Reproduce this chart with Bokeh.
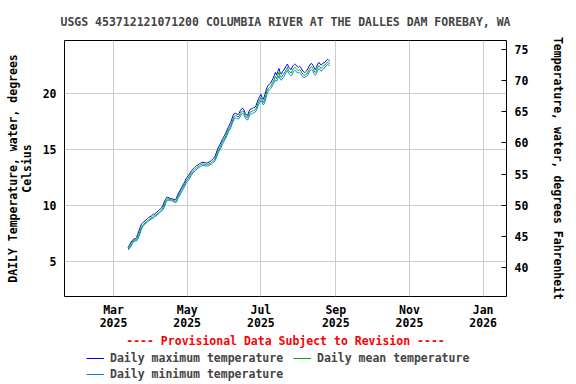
import pandas as pd
from bokeh.plotting import figure
from bokeh.models import (Range1d, LinearAxis, FixedTicker, Legend, LegendItem)
from bokeh.layouts import column
from bokeh.embed import file_html
from bokeh.resources import INLINE

title_text = "USGS 453712121071200 COLUMBIA RIVER AT THE DALLES DAM FOREBAY, WA"
provisional_text = "---- Provisional Data Subject to Revision ----"
left_label = "DAILY Temperature, water, degrees\nCelsius"
right_label = "Temperature, water, degrees Fahrenheit"
series_names = ["Daily maximum temperature", "Daily mean temperature", "Daily minimum temperature"]
series_colors = ["#0000ff", "#00a800", "#0088dd"]

start_date = "2025-03-13"
x_tick_dates = ["2025-03-01", "2025-05-01", "2025-07-01", "2025-09-01", "2025-11-01", "2026-01-01"]
x_tick_labels = ["Mar\n2025", "May\n2025", "Jul\n2025", "Sep\n2025", "Nov\n2025", "Jan\n2026"]
c_ticks = [5, 10, 15, 20]
f_ticks = [40, 45, 50, 55, 60, 65, 70, 75]

mean_mar = [6.1, 6.2, 6.4, 6.6, 6.8, 6.9, 6.9, 6.9, 7.1, 7.4, 7.7, 8.0, 8.2, 8.3, 8.4, 8.5, 8.6, 8.7, 8.75]
mean_apr = [8.85, 8.9, 9.0, 9.1, 9.1, 9.2, 9.3, 9.4, 9.5, 9.6, 9.8, 10.0, 10.3, 10.5, 10.55, 10.55, 10.5, 10.5, 10.45, 10.4,
            10.35, 10.4, 10.7, 10.9, 11.1, 11.3, 11.5, 11.7, 11.9, 12.15]
mean_may = [12.3, 12.4, 12.6, 12.8, 12.9, 13.05, 13.15, 13.25, 13.35, 13.45, 13.5, 13.6, 13.65, 13.7, 13.65, 13.65, 13.6,
            13.65, 13.7, 13.7, 13.8, 13.9, 14.0, 14.1, 14.4, 14.7, 14.95, 15.15, 15.35, 15.6, 15.8]
mean_jun = [16.0, 16.2, 16.45, 16.7, 16.9, 17.1, 17.4, 17.7, 17.95, 18.0, 17.95, 17.9, 17.95, 18.2, 18.35, 18.4, 18.3,
            18.0, 17.85, 17.8, 18.1, 18.3, 18.35, 18.4, 18.45, 18.5, 18.6, 18.9, 19.2, 19.4]
mean_jul = [19.6, 19.4, 19.15, 19.4, 19.8, 20.2, 20.4, 20.5, 20.6, 20.8, 21.0, 21.2, 21.5, 21.3, 21.6, 21.85, 21.5, 21.4,
            21.6, 21.7, 21.9, 22.1, 22.3, 22.0, 21.9, 21.8, 22.0, 22.2, 22.3, 22.2, 22.1]
mean_aug = [22.0, 22.1, 22.0, 21.8, 21.7, 21.6, 21.65, 21.7, 21.9, 22.1, 22.3, 22.35, 22.2, 22.0, 21.85, 22.0, 22.3, 22.45,
            22.3, 22.2, 22.35, 22.45, 22.5, 22.65, 22.75, 22.7, 22.65]

max_mar = [6.2, 6.4, 6.6, 6.8, 6.9, 7.0, 7.0, 7.1, 7.4, 7.7, 8.0, 8.3, 8.4, 8.5, 8.6, 8.7, 8.8, 8.9, 8.95]
max_apr = [9.0, 9.1, 9.2, 9.2, 9.3, 9.4, 9.5, 9.6, 9.7, 9.8, 10.0, 10.3, 10.5, 10.7, 10.7, 10.65, 10.6, 10.6, 10.55, 10.5,
           10.5, 10.6, 10.9, 11.1, 11.3, 11.5, 11.7, 11.9, 12.1, 12.35]
max_may = [12.5, 12.65, 12.8, 13.0, 13.1, 13.25, 13.35, 13.45, 13.55, 13.6, 13.7, 13.75, 13.8, 13.85, 13.8, 13.8, 13.75,
           13.8, 13.85, 13.9, 14.0, 14.1, 14.2, 14.35, 14.65, 14.95, 15.2, 15.4, 15.6, 15.85, 16.05]
max_jun = [16.25, 16.45, 16.7, 16.95, 17.15, 17.4, 17.7, 18.0, 18.2, 18.2, 18.15, 18.1, 18.2, 18.45, 18.6, 18.65, 18.5,
           18.2, 18.05, 18.0, 18.35, 18.55, 18.6, 18.65, 18.7, 18.75, 18.9, 19.2, 19.5, 19.7]
max_jul = [19.9, 19.6, 19.45, 19.75, 20.15, 20.5, 20.7, 20.8, 20.9, 21.1, 21.3, 21.55, 21.85, 21.6, 21.95, 22.2, 21.8, 21.7,
           21.95, 22.05, 22.25, 22.45, 22.6, 22.3, 22.2, 22.1, 22.35, 22.5, 22.6, 22.5, 22.4]
max_aug = [22.3, 22.4, 22.3, 22.1, 21.95, 21.85, 21.9, 22.0, 22.2, 22.4, 22.6, 22.65, 22.5, 22.3, 22.1, 22.3, 22.6, 22.75,
           22.6, 22.5, 22.65, 22.7, 22.75, 22.9, 23.0, 22.95, 22.85]

min_mar = [6.0, 6.1, 6.25, 6.45, 6.65, 6.8, 6.8, 6.8, 6.95, 7.2, 7.5, 7.8, 8.05, 8.2, 8.3, 8.4, 8.5, 8.6, 8.65]
min_apr = [8.75, 8.8, 8.85, 8.95, 9.0, 9.1, 9.2, 9.3, 9.4, 9.5, 9.6, 9.8, 10.1, 10.35, 10.45, 10.45, 10.4, 10.4, 10.35,
           10.3, 10.25, 10.25, 10.5, 10.7, 10.9, 11.1, 11.3, 11.5, 11.7, 11.95]
min_may = [12.1, 12.2, 12.4, 12.6, 12.75, 12.9, 13.0, 13.1, 13.2, 13.3, 13.4, 13.45, 13.5, 13.55, 13.55, 13.5, 13.5, 13.5,
           13.55, 13.6, 13.65, 13.75, 13.85, 13.95, 14.2, 14.5, 14.75, 14.95, 15.15, 15.4, 15.6]
min_jun = [15.8, 16.0, 16.25, 16.5, 16.7, 16.9, 17.2, 17.45, 17.75, 17.8, 17.75, 17.7, 17.75, 17.95, 18.15, 18.2, 18.1,
           17.8, 17.65, 17.6, 17.85, 18.1, 18.15, 18.2, 18.25, 18.3, 18.4, 18.65, 18.95, 19.15]
min_jul = [19.35, 19.15, 18.95, 19.1, 19.5, 19.9, 20.15, 20.3, 20.4, 20.55, 20.75, 20.95, 21.2, 21.05, 21.3, 21.55, 21.25,
           21.15, 21.35, 21.45, 21.65, 21.85, 22.05, 21.75, 21.65, 21.55, 21.7, 21.95, 22.05, 21.95, 21.85]
min_aug = [21.8, 21.85, 21.75, 21.55, 21.45, 21.4, 21.45, 21.5, 21.65, 21.85, 22.05, 22.1, 22.0, 21.75, 21.6, 21.75, 22.05,
           22.2, 22.1, 21.95, 22.1, 22.2, 22.3, 22.45, 22.55, 22.5, 22.45]

mean_temp = mean_mar + mean_apr + mean_may + mean_jun + mean_jul + mean_aug
max_temp = max_mar + max_apr + max_may + max_jun + max_jul + max_aug
min_temp = min_mar + min_apr + min_may + min_jun + min_jul + min_aug

FONT = "DejaVu Sans Mono"
FS = "11.5px"

c_lo, c_hi = 1.85, 24.7
x_lo = pd.Timestamp("2025-01-19 10:00")
x_hi = pd.Timestamp("2026-01-20 08:00")

p = figure(width=576, height=350, output_backend="svg", toolbar_location=None,
           x_axis_type="datetime", x_range=Range1d(x_lo, x_hi), y_range=Range1d(c_lo, c_hi),
           min_border_left=64, min_border_right=70, min_border_top=40, min_border_bottom=54,
           title=title_text)
p.title.align = "center"
p.title.text_font = FONT
p.title.text_font_size = FS
p.title.text_font_style = "bold"
p.title.standoff = 24

p.outline_line_color = "black"
p.outline_line_width = 1
p.background_fill_color = "white"
p.border_fill_color = "white"

p.extra_y_ranges = {"F": Range1d(c_lo * 1.8 + 32, c_hi * 1.8 + 32)}
raxis = LinearAxis(y_range_name="F")
p.add_layout(raxis, "right")

tick_ms = [pd.Timestamp(d).value // 10**6 for d in x_tick_dates]
xa = p.xaxis[0]
xa.ticker = FixedTicker(ticks=tick_ms)
xa.major_label_overrides = {t: lab for t, lab in zip(tick_ms, x_tick_labels)}
xa.axis_label = provisional_text
ya = p.yaxis[0]
ya.ticker = FixedTicker(ticks=c_ticks)
ya.axis_label = left_label
raxis.ticker = FixedTicker(ticks=f_ticks)
raxis.axis_label = right_label

for ax in [xa, ya, raxis]:
    ax.major_label_text_font = FONT
    ax.major_label_text_font_size = FS
    ax.major_label_text_font_style = "bold"
    ax.major_label_text_color = "black"
    ax.axis_label_text_font = FONT
    ax.axis_label_text_font_size = FS
    ax.axis_label_text_font_style = "bold"
    ax.axis_label_text_color = "black"
    ax.axis_label_text_line_height = 1.0
    ax.axis_line_color = None
    ax.minor_tick_line_color = None
    ax.major_tick_out = 0
    ax.major_tick_in = 0
xa.major_label_text_line_height = 0.95
xa.axis_label_text_color = "red"
raxis.major_tick_in = 5
raxis.major_tick_line_color = "black"
raxis.major_label_standoff = 8
raxis.axis_label_standoff = 20
ya.major_label_standoff = 8
ya.axis_label_standoff = 6
xa.major_label_standoff = 6
xa.axis_label_standoff = 1

p.xgrid.grid_line_color = "#cccccc"
p.ygrid.grid_line_color = "#cccccc"
p.xgrid.ticker = xa.ticker
p.ygrid.ticker = ya.ticker

max_dates = pd.date_range(start_date, periods=len(max_temp), freq="D")
mean_dates = pd.date_range(start_date, periods=len(mean_temp), freq="D")
min_dates = pd.date_range(start_date, periods=len(min_temp), freq="D")

p.line(min_dates, min_temp, line_color=series_colors[2], line_width=1)
p.line(max_dates, max_temp, line_color=series_colors[0], line_width=1)
p.line(mean_dates, mean_temp, line_color=series_colors[1], line_width=1)

# legend strip below the chart (same series, ranges chosen so only the legend shows)
q = figure(width=576, height=34, output_backend="svg", toolbar_location=None,
           x_axis_location=None, y_axis_location=None, x_axis_type="datetime",
           x_range=Range1d(x_lo, x_hi), y_range=Range1d(-20, -10),
           min_border_left=0, min_border_right=0, min_border_top=0, min_border_bottom=0)
q.outline_line_color = None
q.xgrid.visible = False
q.ygrid.visible = False
q.border_fill_color = "white"
q_max = q.line(max_dates, max_temp, line_color=series_colors[0], line_width=1)
q_mean = q.line(mean_dates, mean_temp, line_color=series_colors[1], line_width=1)
q_min = q.line(min_dates, min_temp, line_color=series_colors[2], line_width=1)

lg = Legend(items=[LegendItem(label=series_names[0], renderers=[q_max]),
                   LegendItem(label=series_names[2], renderers=[q_min]),
                   LegendItem(label=series_names[1], renderers=[q_mean])],
            location=(22, 2), orientation="vertical", nrows=2)
lg.label_text_font = FONT
lg.label_text_font_size = FS
lg.label_text_font_style = "bold"
lg.glyph_width = 18
lg.glyph_height = 16
lg.label_height = 16
lg.label_width = 183
lg.label_standoff = 6
lg.spacing = 0
lg.padding = 0
lg.margin = 0
lg.border_line_alpha = 0
lg.background_fill_alpha = 0
q.add_layout(lg, "center")

layout = column(p, q, spacing=0)
open("out.html", "w").write(file_html(layout, INLINE))
